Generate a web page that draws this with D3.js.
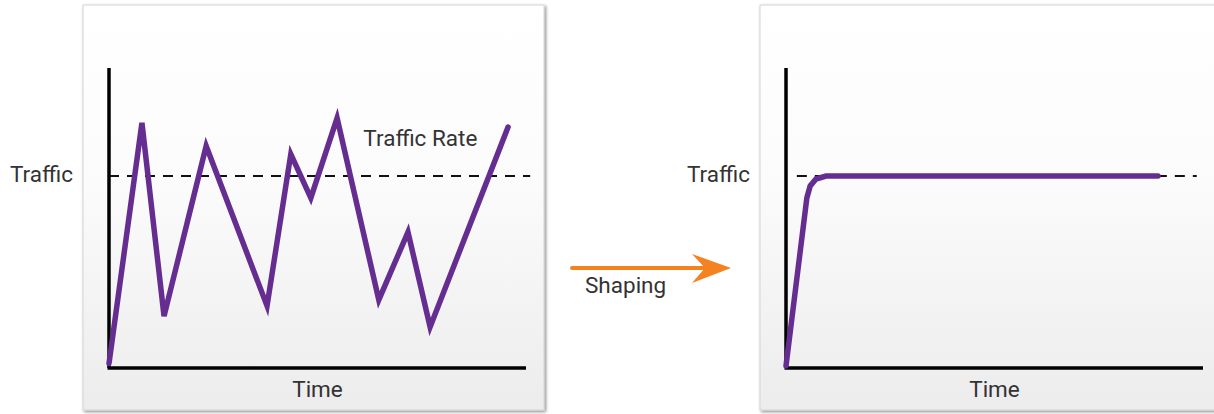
<!DOCTYPE html>
<html>
<body style="margin:0;background:#fff">

<script src="https://d3js.org/d3.v7.min.js"></script>
<style>
  text { font-family: Roboto, "Noto Sans", sans-serif; fill: #333; }
</style>

<script>

var width = 1214, height = 414;

// time / traffic values (0..100 on both axes)
var rawTime    = [0, 7.9, 13.2, 23.3, 37.9, 43.6, 48.4, 54.7, 64.7, 71.7, 77.0, 95.7];
var rawTraffic = [1.5, 81.7, 17.3, 74, 20.7, 71.3, 56.7, 83.3, 22.7, 45.3, 13.7, 80.3];

var shapedTime    = [0, 5.0, 5.8, 7.2, 9.6, 89.2];
var shapedTraffic = [0.7, 56.7, 60.7, 63.0, 64, 64];

var limit = 64;   // the "Traffic" threshold (dashed line)

var labels = {y: "Traffic", x: "Time", rate: "Traffic Rate", arrow: "Shaping"};

var svg = d3.select("body")
            .append("svg")
            .attr("width", width)
            .attr("height", height);

var defs = svg.append("defs");

var grad = defs.append("linearGradient")
               .attr("id", "bg")
               .attr("x1", 0).attr("y1", 0).attr("x2", 0).attr("y2", 1);
grad.append("stop").attr("offset", "0%").attr("stop-color", "#ffffff");
grad.append("stop").attr("offset", "45%").attr("stop-color", "#fbfbfb");
grad.append("stop").attr("offset", "100%").attr("stop-color", "#ececec");

var shadow = defs.append("filter")
                 .attr("id", "shadow")
                 .attr("x", "-5%").attr("y", "-5%")
                 .attr("width", "115%").attr("height", "115%");
shadow.append("feDropShadow")
      .attr("dx", 1.5).attr("dy", 1.5)
      .attr("stdDeviation", 1.5)
      .attr("flood-color", "#000")
      .attr("flood-opacity", 0.45);

function panel(left, boxW, series, showRate) {
  var g = svg.append("g");

  g.append("rect")
   .attr("x", left).attr("y", 5)
   .attr("width", boxW).attr("height", 405)
   .attr("fill", "url(#bg)")
   .attr("stroke", "#d4d4d4")
   .attr("stroke-width", 1)
   .attr("filter", "url(#shadow)");

  var x0 = left + 26;
  var xScale = d3.scaleLinear().domain([0, 100]).range([x0, x0 + 417]);
  var yScale = d3.scaleLinear().domain([0, 100]).range([368, 68]);

  // dashed threshold
  g.append("line")
   .attr("x1", showRate ? xScale(0) : xScale(2.6))
   .attr("x2", showRate ? xScale(101) : xScale(98.5))
   .attr("y1", yScale(limit)).attr("y2", yScale(limit))
   .attr("stroke", "#111")
   .attr("stroke-width", 1.8)
   .attr("stroke-dasharray", "10,8");

  // axes
  var yAxis = d3.axisLeft(yScale).ticks(0).tickSize(0);
  var xAxis = d3.axisBottom(xScale).ticks(0).tickSize(0);

  g.append("g")
   .attr("transform", "translate(" + xScale(0) + ",0)")
   .call(yAxis)
   .call(function(a) {
     a.select(".domain").attr("d", "M0," + yScale(0) + "V" + yScale(100))
      .attr("stroke", "#000").attr("stroke-width", 3.5);
   });

  g.append("g")
   .attr("transform", "translate(0," + yScale(0) + ")")
   .call(xAxis)
   .call(function(a) {
     a.select(".domain").attr("d", "M" + (xScale(0) - 1.5) + ",0H" + xScale(100))
      .attr("stroke", "#000").attr("stroke-width", 3.5);
   });

  var line = d3.line()
               .x(function(d) { return xScale(d[0]); })
               .y(function(d) { return yScale(d[1]); });

  g.append("path")
   .datum(series)
   .attr("d", line)
   .attr("fill", "none")
   .attr("stroke", "#662d91")
   .attr("stroke-width", 5.5)
   .attr("stroke-linejoin", "miter")
   .attr("stroke-linecap", "round");

  g.append("text")
   .attr("x", xScale(0) - 36)
   .attr("y", yScale(limit) + 6)
   .attr("text-anchor", "end")
   .attr("font-size", 22.5)
   .text(labels.y);

  g.append("text")
   .attr("x", xScale(50))
   .attr("y", 397)
   .attr("text-anchor", "middle")
   .attr("font-size", 22.5)
   .text(labels.x);

  if (showRate) {
    g.append("text")
     .attr("x", xScale(61))
     .attr("y", 146)
     .attr("font-size", 22.5)
     .text(labels.rate);
  }
}

var rawData = rawTime.map(function(t, i) { return [t, rawTraffic[i]]; });
var shapedData = shapedTime.map(function(t, i) { return [t, shapedTraffic[i]]; });

panel(83, 461, rawData, true);
panel(760, 470, shapedData, false);

// Shaping arrow
var arrow = svg.append("g");
arrow.append("line")
     .attr("x1", 572).attr("x2", 712)
     .attr("y1", 268).attr("y2", 268)
     .attr("stroke", "#f58220")
     .attr("stroke-width", 4)
     .attr("stroke-linecap", "round");
arrow.append("path")
     .attr("d", "M731,268 L692,254 L705,268 L692,283 Z")
     .attr("fill", "#f58220");
arrow.append("text")
     .attr("x", 585)
     .attr("y", 293)
     .attr("font-size", 22.5)
     .text(labels.arrow);

</script>
</body>
</html>
